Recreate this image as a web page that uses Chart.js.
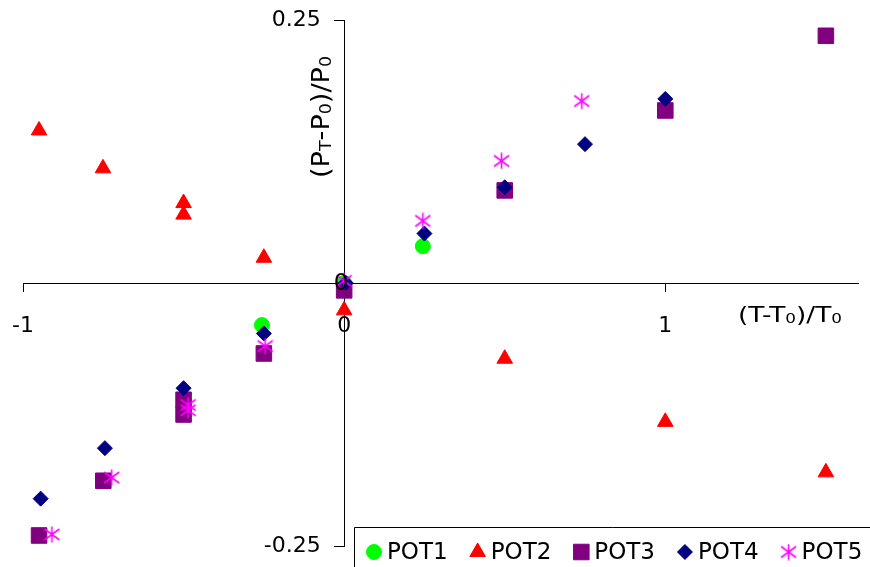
<!DOCTYPE html>
<html><head><meta charset="utf-8">
<script src="https://cdn.jsdelivr.net/npm/chart.js@4/dist/chart.umd.min.js"></script>
<style>html,body{margin:0;padding:0;background:#fff;}#wrap{width:870px;height:567px;position:relative;}</style>
</head><body><div id="wrap"><canvas id="c" width="870" height="567"></canvas></div>
<script>
// ---------- data ----------
const seriesNames = ['POT1', 'POT2', 'POT3', 'POT4', 'POT5'];
const pot1X = [0.245, 0, -0.256];
const pot1Y = [0.035, 0, -0.040];
const pot2X = [-0.95, -0.751, -0.50, -0.50, -0.25, 0, 0.50, 1.0, 1.5];
const pot2Y = [0.145, 0.109, 0.076, 0.065, 0.024, -0.026, -0.072, -0.132, -0.180];
const pot3X = [1.5, 1.0, 0.5, 0, -0.25, -0.5, -0.5, -0.75, -0.95];
const pot3Y = [0.235, 0.164, 0.088, -0.007, -0.067, -0.111, -0.125, -0.188, -0.240];
const pot4X = [1.0, 0.75, 0.5, 0.25, 0.005, -0.25, -0.5, -0.745, -0.945];
const pot4Y = [0.175, 0.132, 0.091, 0.047, 0.0, -0.048, -0.100, -0.157, -0.205];
const pot5X = [0.74, 0.49, 0.245, 0, -0.246, -0.486, -0.486, -0.724, -0.91];
const pot5Y = [0.173, 0.116, 0.059, 0.002, -0.060, -0.116, -0.121, -0.185, -0.239];
const xTickValues = [-1, 0, 1];
const yTickValues = [-0.25, 0.25];
const xMin = -1, xMax = 1.6, yMin = -0.25, yMax = 0.25;
const xTitleParts = [['(T-T', false], ['0', true], [')/T', false], ['0', true]];
const yTitleParts = [['(P', false], ['T', true], ['-P', false], ['0', true], [')/P', false], ['0', true]];
const originLabel = '0';

// ---------- styling ----------
const FONT = '"DejaVu Sans", sans-serif';
function makeStar(color) {
  const c = document.createElement('canvas');
  c.width = 17; c.height = 17;
  const g = c.getContext('2d');
  g.strokeStyle = color; g.lineWidth = 1.6;
  g.beginPath();
  g.moveTo(8.5, 0.5); g.lineTo(8.5, 16.5);
  g.moveTo(1, 3); g.lineTo(16, 14);
  g.moveTo(1, 14); g.lineTo(16, 3);
  g.stroke();
  return c;
}
const starImg = makeStar('#FF00FF');
const toPts = (xs, ys) => xs.map((x, i) => ({x: x, y: ys[i]}));
const styles = [
  {color: '#00FF00', pointStyle: 'circle', radius: 7.5, order: 5},
  {color: '#FF0000', pointStyle: 'triangle', radius: 9, order: 4},
  {color: '#800080', pointStyle: 'rect', radius: 11, order: 3},
  {color: '#000080', pointStyle: 'rectRot', radius: 7.5, order: 2},
  {color: '#FF00FF', pointStyle: starImg, radius: 8.5, order: 1}
];
const series = [toPts(pot1X, pot1Y), toPts(pot2X, pot2Y), toPts(pot3X, pot3Y), toPts(pot4X, pot4Y), toPts(pot5X, pot5Y)];
const datasets = series.map((d, i) => ({
  label: seriesNames[i],
  data: d,
  pointStyle: styles[i].pointStyle,
  pointRadius: styles[i].radius,
  pointHoverRadius: styles[i].radius,
  backgroundColor: styles[i].color,
  borderColor: styles[i].color,
  borderWidth: 1,
  showLine: false,
  clip: false,
  order: styles[i].order
}));

function drawParts(ctx, parts, mainPx, subPx, targetW, subDy) {
  let w = 0;
  parts.forEach(p => { ctx.font = (p[1] ? subPx : mainPx) + 'px ' + FONT; w += ctx.measureText(p[0]).width; });
  const s = targetW / w;
  ctx.scale(s, 1);
  let cx = 0;
  parts.forEach(p => {
    ctx.font = (p[1] ? subPx : mainPx) + 'px ' + FONT;
    ctx.fillText(p[0], cx, p[1] ? subDy : 0);
    cx += ctx.measureText(p[0]).width;
  });
}

const Y_LABEL_GAP = 23.5;   // distance from the y axis line to the right edge of its labels
const X_LABEL_DROP = 43;    // distance from the x axis line to the centre of its labels
const overlay = {
  id: 'overlay',
  beforeDraw(chart) {
    const xs = chart.scales.x, ys = chart.scales.y;
    const yItems = ys.getLabelItems();
    if (!yItems._moved) {
      yItems.forEach(it => { it.options.translation[0] = xs.getPixelForValue(0) - Y_LABEL_GAP; it.options.textAlign = 'right'; });
      yItems._moved = true;
    }
    const xItems = xs.getLabelItems();
    if (!xItems._moved) {
      xItems.forEach(it => { it.options.translation[1] = ys.getPixelForValue(0) + X_LABEL_DROP; it.options.textBaseline = 'middle'; it.textOffset = 0; });
      xItems._moved = true;
    }
  },
  afterDatasetsDraw(chart) {
    const ctx = chart.ctx;
    const xs = chart.scales.x, ys = chart.scales.y;
    ctx.save();
    ctx.fillStyle = '#000';
    ctx.font = '23px ' + FONT;
    ctx.textAlign = 'center';
    ctx.textBaseline = 'middle';
    ctx.fillText(originLabel, xs.getPixelForValue(0) - 3, ys.getPixelForValue(0) + 1);
    ctx.restore();
  },
  afterDraw(chart) {
    const ctx = chart.ctx;
    ctx.save();
    ctx.fillStyle = '#000';
    ctx.textBaseline = 'alphabetic';
    ctx.textAlign = 'left';
    // x title
    ctx.save();
    ctx.translate(738, 322);
    drawParts(ctx, xTitleParts, 22, 14, 104, 1);
    ctx.restore();
    // y title
    ctx.save();
    ctx.translate(329, 178);
    ctx.rotate(-Math.PI / 2);
    drawParts(ctx, yTitleParts, 25, 16, 122, 2);
    ctx.restore();

    // legend box
    const lx = 354.5, ly = 527.5;
    ctx.fillStyle = '#fff';
    ctx.fillRect(lx, ly, chart.width - lx + 2, chart.height - ly + 2);
    ctx.strokeStyle = '#000';
    ctx.lineWidth = 1;
    ctx.beginPath();
    ctx.moveTo(lx, chart.height + 1);
    ctx.lineTo(lx, ly);
    ctx.lineTo(chart.width + 1, ly);
    ctx.stroke();
    ctx.font = '23px ' + FONT;
    let x = 374;
    const my = 552, ty = 558.5;
    chart.data.datasets.forEach((ds, i) => {
      ctx.fillStyle = ds.backgroundColor;
      ctx.strokeStyle = ds.borderColor;
      ctx.lineWidth = 1;
      Chart.helpers.drawPoint(ctx, {pointStyle: ds.pointStyle, radius: ds.pointRadius, rotation: 0, borderWidth: 1}, x, my);
      ctx.fillStyle = '#000';
      ctx.font = '23px ' + FONT;
      const tx = x + 13;
      ctx.fillText(ds.label, tx, ty);
      x = tx + ctx.measureText(ds.label).width + 30;
    });
    ctx.restore();
  }
};

new Chart(document.getElementById('c'), {
  type: 'scatter',
  data: {datasets: datasets},
  plugins: [overlay],
  options: {
    responsive: false,
    animation: false,
    devicePixelRatio: 1,
    layout: {padding: {left: 23, right: 12, top: 20, bottom: 21}},
    plugins: {legend: {display: false}, tooltip: {enabled: false}},
    scales: {
      x: {
        type: 'linear', min: xMin, max: xMax,
        position: {y: 0},
        afterBuildTicks: s => { s.ticks = xTickValues.map(v => ({value: v})); },
        ticks: {
          color: '#000', font: {family: 'DejaVu Sans', size: 22}, padding: 0,
          maxRotation: 0, autoSkip: false,
          callback: v => String(v)
        },
        grid: {drawOnChartArea: false, drawTicks: true, tickLength: 8, color: '#000', lineWidth: 1},
        border: {display: true, color: '#000', width: 1}
      },
      y: {
        type: 'linear', min: yMin, max: yMax,
        position: {x: 0},
        afterBuildTicks: s => { s.ticks = yTickValues.map(v => ({value: v})); },
        ticks: {
          color: '#000', font: {family: 'DejaVu Sans', size: 22}, padding: 0,
          autoSkip: false,
          callback: v => String(v)
        },
        grid: {drawOnChartArea: false, drawTicks: true, tickLength: 10, color: '#000', lineWidth: 1},
        border: {display: true, color: '#000', width: 1}
      }
    }
  }
});
</script></body></html>
